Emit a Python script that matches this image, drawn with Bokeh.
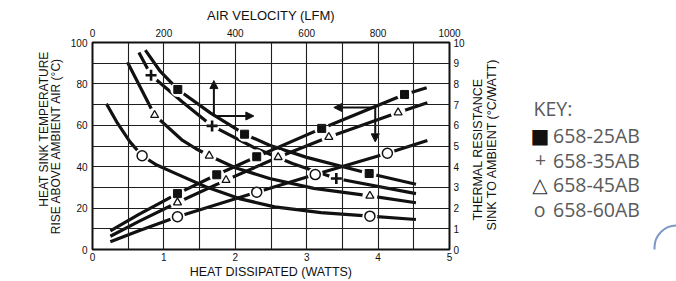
import math
from bokeh.plotting import figure
from bokeh.models import (Range1d, LinearAxis, SingleIntervalTicker, FixedTicker,
                          Arrow, NormalHead, BoxAnnotation, Row)
from bokeh.core.properties import value
from bokeh.embed import file_html
from bokeh.resources import INLINE

# ---------------- data ----------------
# Temperature rise (left axis) vs heat dissipated (bottom axis) - rising curves
SQ_INC_W = [0.25, 0.65, 1.19, 1.74, 2.30, 3.21, 4.37, 4.68]
SQ_INC_T = [9.0, 17.0, 27.0, 36.1, 44.8, 58.5, 74.9, 78.1]
TRI_INC_W = [0.25, 0.65, 1.19, 1.87, 2.60, 3.31, 4.28, 4.69]
TRI_INC_T = [6.4, 13.6, 22.7, 33.5, 44.6, 54.3, 66.2, 70.9]
CIR_INC_W = [0.25, 0.65, 1.19, 2.30, 3.12, 4.13, 4.69]
CIR_INC_T = [3.7, 9.1, 15.8, 27.7, 36.2, 46.5, 52.7]

# Thermal resistance (right axis) vs air velocity (top axis) - falling curves
SQ_DEC_V = [148, 190, 239, 330, 426, 496, 600, 775, 906]
SQ_DEC_R = [9.63, 8.6, 7.73, 6.6, 5.57, 5.04, 4.45, 3.67, 3.15]
PLUS_DEC_V = [130, 164, 252, 335, 458, 560, 683, 906]
PLUS_DEC_R = [9.52, 8.42, 7.13, 5.97, 4.88, 4.15, 3.43, 2.7]
TRI_DEC_V = [98, 135, 174, 250, 289, 327, 400, 496, 620, 777, 906]
TRI_DEC_R = [9.05, 7.8, 6.49, 5.3, 4.88, 4.53, 3.95, 3.43, 2.95, 2.59, 2.26]
CIR_DEC_V = [39, 70, 105, 139, 180, 229, 317, 411, 510, 640, 777, 906]
CIR_DEC_R = [7.04, 6.1, 5.2, 4.53, 4.08, 3.7, 3.03, 2.46, 2.06, 1.78, 1.61, 1.45]

# marker positions
SQ_INC_MW = [1.19, 1.74, 2.30, 3.21, 4.37]
SQ_INC_MT = [27.0, 36.1, 44.8, 58.5, 74.9]
TRI_INC_MW = [1.19, 1.87, 2.60, 3.31, 4.28]
TRI_INC_MT = [22.7, 33.5, 44.6, 54.3, 66.2]
CIR_INC_MW = [1.19, 2.30, 3.12, 4.13]
CIR_INC_MT = [15.8, 27.7, 36.2, 46.5]
SQ_DEC_MV = [239, 426, 775]
SQ_DEC_MR = [7.73, 5.57, 3.67]
PLUS_DEC_MV = [164, 335, 683]
PLUS_DEC_MR = [8.42, 5.97, 3.43]
TRI_DEC_MV = [174, 327, 777]
TRI_DEC_MR = [6.49, 4.53, 2.59]
CIR_DEC_MV = [139, 777]
CIR_DEC_MR = [4.53, 1.61]

BOTTOM_TICKS = [0, 1, 2, 3, 4, 5]
LEFT_TICKS = [0, 20, 40, 60, 80, 100]
TOP_TICKS = [0, 200, 400, 600, 800, 1000]
RIGHT_TICKS = list(range(0, 11))

KEY_TITLE = "KEY:"
KEY_SYMBOLS = ["\u25A0", "+", "\u25B3", "o"]
KEY_LABELS = ["658-25AB", "658-35AB", "658-45AB", "658-60AB"]

TITLE_TOP = "AIR VELOCITY (LFM)"
TITLE_BOTTOM = "HEAT DISSIPATED (WATTS)"
TITLE_LEFT = ["HEAT SINK TEMPERATURE", "RISE ABOVE AMBIENT AIR (\u00b0C)"]
TITLE_RIGHT = ["THERMAL RESISTANCE", "SINK TO AMBIENT (\u00b0C/WATT)"]

FONT = "Liberation Sans"
INK = "#111111"
KEY_GRAY = "#5a5a5a"

H = 281
TOP, BOTTOM = 42, 32       # borders above / below the plotting frame
LEFT_W = 64                # width of the left title strip
MAIN_W = 406               # width of the chart itself
SIDE_W = 676 - LEFT_W - MAIN_W


def blank(width, x0):
    # strip whose data coordinates equal page pixels (y negated)
    f = figure(width=width, height=H, x_range=Range1d(x0, x0 + width),
               y_range=Range1d(-(H - BOTTOM), -TOP),
               output_backend="svg", toolbar_location=None,
               min_border_left=0, min_border_right=0,
               min_border_top=TOP, min_border_bottom=BOTTOM)
    f.axis.visible = False
    f.grid.visible = False
    f.outline_line_color = None
    f.background_fill_color = "white"
    f.border_fill_color = "white"
    return f


# ---------------- left strip: left axis title ----------------
lft = blank(LEFT_W, 0)
lft.text(x=[43, 55.5], y=[-128.5, -145], text=TITLE_LEFT, angle=math.pi / 2,
         text_align="center", text_baseline="middle", text_font=value(FONT),
         text_font_size="12px", text_color=INK)

# ---------------- main chart ----------------
p = figure(width=MAIN_W, height=H, x_range=Range1d(0, 5), y_range=Range1d(0, 100),
           output_backend="svg", toolbar_location=None,
           min_border_left=28, min_border_right=MAIN_W - 28 - 357,
           min_border_top=TOP, min_border_bottom=BOTTOM)
p.extra_x_ranges = {"vel": Range1d(0, 1000)}
p.extra_y_ranges = {"res": Range1d(0, 10)}
p.background_fill_color = "white"
p.border_fill_color = "white"
p.outline_line_color = INK
p.outline_line_width = 2

p.add_layout(LinearAxis(x_range_name="vel"), "above")
p.add_layout(LinearAxis(y_range_name="res"), "right")

for ax in p.axis:
    ax.axis_line_color = None
    ax.major_tick_out = 0
    ax.major_tick_in = 0
    ax.minor_tick_out = 0
    ax.minor_tick_in = 0
    ax.major_label_text_font = FONT
    ax.major_label_text_font_size = "10px"
    ax.major_label_text_color = INK
    ax.axis_label_text_font = FONT
    ax.axis_label_text_font_style = "normal"
    ax.axis_label_text_color = INK

p.below[0].ticker = FixedTicker(ticks=BOTTOM_TICKS)
p.below[0].major_label_standoff = 3
p.below[0].axis_label = TITLE_BOTTOM
p.below[0].axis_label_text_font_size = "12.5px"
p.below[0].axis_label_standoff = 1
p.left[0].ticker = FixedTicker(ticks=LEFT_TICKS)
p.left[0].major_label_standoff = 5
p.above[0].ticker = FixedTicker(ticks=TOP_TICKS)
p.above[0].major_label_standoff = 6
p.above[0].axis_label = TITLE_TOP
p.above[0].axis_label_text_font_size = "13px"
p.above[0].axis_label_standoff = 3
p.right[0].ticker = FixedTicker(ticks=RIGHT_TICKS)
p.right[0].major_label_standoff = 4

p.xgrid.ticker = SingleIntervalTicker(interval=0.5)
p.ygrid.ticker = SingleIntervalTicker(interval=10)
for g in (p.xgrid, p.ygrid):
    g.grid_line_color = "#1e1e1e"
    g.grid_line_width = 1.1
    g.grid_line_alpha = 1
    g.level = "overlay"

LW = 3.2
for xs, ys in [(SQ_INC_W, SQ_INC_T), (TRI_INC_W, TRI_INC_T), (CIR_INC_W, CIR_INC_T)]:
    p.line(xs, ys, line_color=INK, line_width=LW, line_join="round")
for xs, ys in [(SQ_DEC_V, SQ_DEC_R), (PLUS_DEC_V, PLUS_DEC_R),
               (TRI_DEC_V, TRI_DEC_R), (CIR_DEC_V, CIR_DEC_R)]:
    p.line(xs, ys, line_color=INK, line_width=LW, line_join="round",
           x_range_name="vel", y_range_name="res")

# white gaps in the curves around the markers
HALO = 15
for xs, ys in [(SQ_INC_MW, SQ_INC_MT), (TRI_INC_MW, TRI_INC_MT), (CIR_INC_MW, CIR_INC_MT)]:
    p.scatter(xs, ys, marker="circle", size=HALO, fill_color="white", line_color=None)
for xs, ys in [(SQ_DEC_MV, SQ_DEC_MR), (PLUS_DEC_MV, PLUS_DEC_MR),
               (TRI_DEC_MV, TRI_DEC_MR), (CIR_DEC_MV, CIR_DEC_MR)]:
    p.scatter(xs, ys, marker="circle", size=HALO, fill_color="white", line_color=None,
              x_range_name="vel", y_range_name="res")


def sq(xs, ys, **kw):
    p.scatter(xs, ys, marker="square", size=8, fill_color=INK, line_color=INK, **kw)


def tri(xs, ys, **kw):
    p.scatter(xs, ys, marker="triangle", size=8, fill_color="white", line_color=INK,
              line_width=1.3, **kw)


def cir(xs, ys, **kw):
    p.scatter(xs, ys, marker="circle", size=10, fill_color="white", line_color=INK,
              line_width=1.5, **kw)


sq(SQ_INC_MW, SQ_INC_MT)
tri(TRI_INC_MW, TRI_INC_MT)
cir(CIR_INC_MW, CIR_INC_MT)
sq(SQ_DEC_MV, SQ_DEC_MR, x_range_name="vel", y_range_name="res")
p.scatter(PLUS_DEC_MV, PLUS_DEC_MR, marker="cross", size=11, line_color=INK, line_width=2.6,
          x_range_name="vel", y_range_name="res")
tri(TRI_DEC_MV, TRI_DEC_MR, x_range_name="vel", y_range_name="res")
cir(CIR_DEC_MV, CIR_DEC_MR, x_range_name="vel", y_range_name="res")


def arrow(x0, y0, x1, y1):
    p.add_layout(Arrow(end=NormalHead(size=8, fill_color=INK, line_color=INK, line_width=1),
                       x_start=x0, y_start=y0, x_end=x1, y_end=y1,
                       line_color=INK, line_width=2))


arrow(1.70, 64.5, 1.70, 81.6)
arrow(1.70, 64.5, 2.26, 64.5)
arrow(3.96, 68.6, 3.38, 68.6)
arrow(3.96, 68.6, 3.96, 52.0)

# ---------------- right strip: right axis title and key ----------------
side = blank(SIDE_W, LEFT_W + MAIN_W)
side.text(x=[477.5, 491.5], y=[-149, -144], text=TITLE_RIGHT, angle=math.pi / 2,
          text_align="center", text_baseline="middle", text_font=value(FONT),
          text_font_size="12.5px", text_color=INK)
side.text(x=[533], y=[-108], text=[KEY_TITLE], text_align="left", text_baseline="middle",
          text_font=value("Open Sans"), text_font_size="19.5px", text_color=KEY_GRAY)
key_y = [-(135 + 24.6 * i) for i in range(len(KEY_LABELS))]
side.text(x=[539.5, 539.5], y=[key_y[0], key_y[2]], text=[KEY_SYMBOLS[0], KEY_SYMBOLS[2]],
          text_align="center", text_baseline="middle", text_font=value("DejaVu Sans"),
          text_font_size="20px", text_color=["#111111", "#333333"])
side.text(x=[540, 539], y=[key_y[1], key_y[3]], text=[KEY_SYMBOLS[1], KEY_SYMBOLS[3]],
          text_align="center", text_baseline="middle", text_font=value("Open Sans"),
          text_font_size="19.5px", text_color=KEY_GRAY)
side.text(x=[552.5] * len(KEY_LABELS), y=key_y, text=KEY_LABELS, text_align="left",
          text_baseline="middle", text_font=value("Open Sans"), text_font_size="19.5px",
          text_color=KEY_GRAY)
side.add_layout(BoxAnnotation(left=654, right=740, top=-225, bottom=-340,
                              fill_color=None, fill_alpha=0, line_color="#7d97c6",
                              line_width=2, line_alpha=1, border_radius=22))

layout = Row(children=[lft, p, side], spacing=0)
open("out.html", "w").write(file_html(layout, INLINE))
